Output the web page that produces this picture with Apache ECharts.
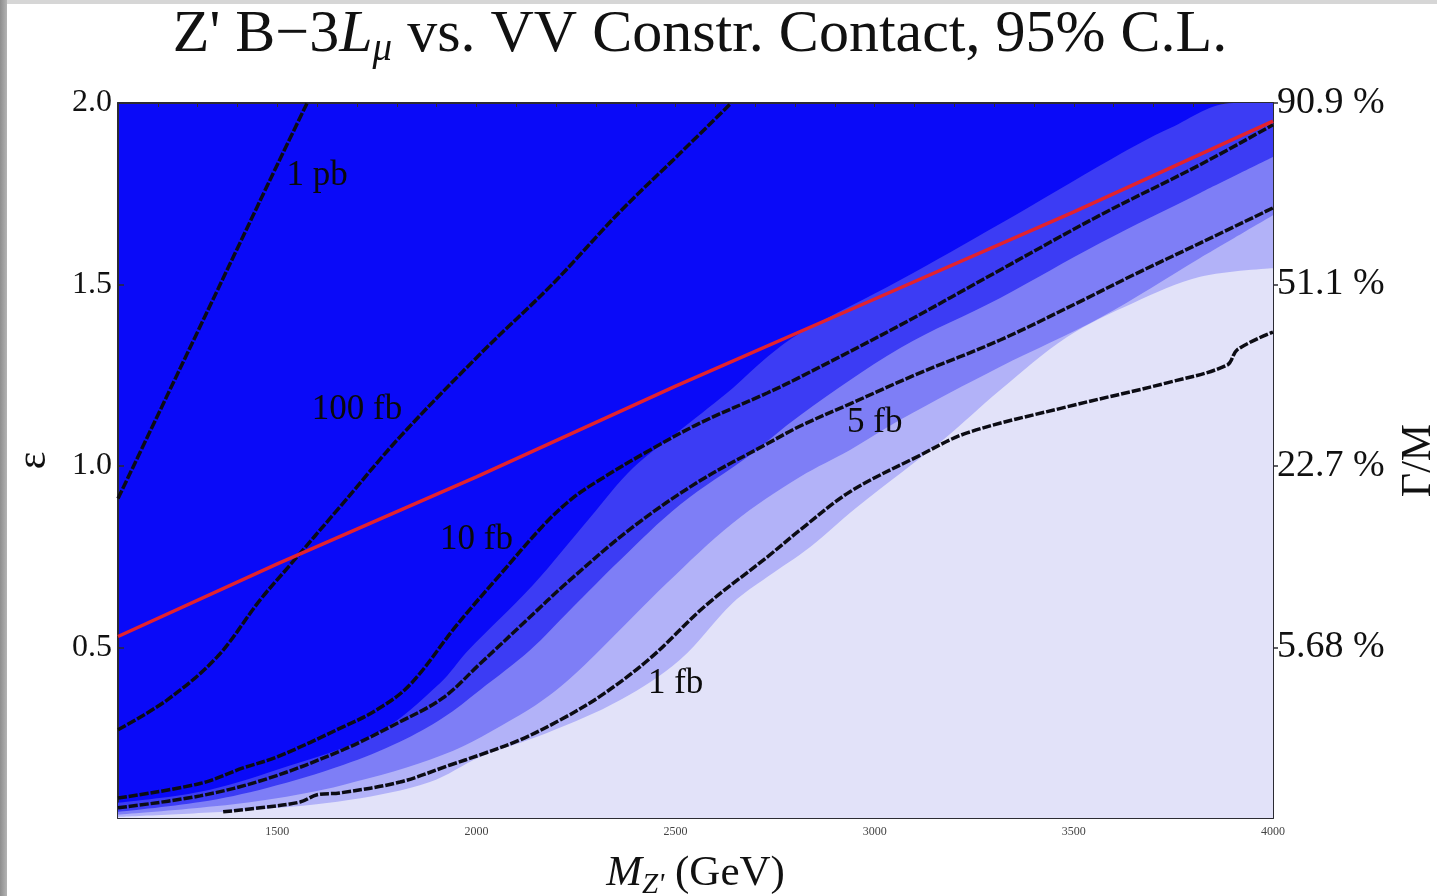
<!DOCTYPE html>
<html>
<head>
<meta charset="utf-8">
<script src="https://cdn.jsdelivr.net/npm/echarts@6.0.0/dist/echarts.min.js"></script>
<style>
  html, body { margin: 0; padding: 0; background: #fff; }
  #chart { width: 1437px; height: 896px; }
  .strip-top { position: absolute; left: 0; top: 0; width: 1437px; height: 4px; background: #d6d6d6; }
  .strip-left { position: absolute; left: 0; top: 0; width: 7px; height: 896px; background: linear-gradient(to right, #8e8e8e, #b4b4b4); }
</style>
</head>
<body>
<div id="chart"></div>
<div class="strip-top"></div>
<div class="strip-left"></div>
<script>
// [M_Z' (GeV), epsilon]
const redLine = [[1100, 0.53], [1500, 0.73], [2000, 0.97], [2500, 1.22], [3000, 1.46], [3500, 1.70], [4000, 1.95]];

const contour1pb = [[1100, 0.91], [1200, 1.14], [1300, 1.37], [1400, 1.60], [1500, 1.83], [1575, 2.0]];
const contour100fb = [[1100, 0.273], [1223, 0.355], [1349, 0.474], [1457, 0.631], [1532, 0.727], [1657, 0.887],
  [1808, 1.08], [2020, 1.32], [2190, 1.50], [2360, 1.70], [2510, 1.86], [2640, 2.0]];
const contour10fb = [[1100, 0.085], [1306, 0.125], [1414, 0.168], [1499, 0.198], [1665, 0.281], [1750, 0.328],
  [1833, 0.397], [1951, 0.562], [2059, 0.70], [2167, 0.835], [2240, 0.91], [2310, 0.962], [2436, 1.044],
  [2561, 1.118], [2730, 1.201], [2813, 1.245], [3064, 1.388], [3315, 1.540], [3566, 1.691], [3817, 1.83], [4000, 1.94]];
const contour5fb = [[1100, 0.058], [1306, 0.091], [1474, 0.138], [1665, 0.218], [1808, 0.295], [1916, 0.361],
  [2009, 0.455], [2127, 0.576], [2227, 0.678], [2393, 0.832], [2561, 0.959], [2730, 1.061], [2813, 1.110],
  [2938, 1.171], [3106, 1.253], [3315, 1.347], [3523, 1.457], [3649, 1.526], [3817, 1.614], [4000, 1.711]];
const contour1fb = [[1364, 0.047], [1457, 0.058], [1557, 0.074], [1600, 0.094], [1657, 0.099], [1808, 0.129],
  [1934, 0.176], [2009, 0.204], [2109, 0.245], [2210, 0.300], [2310, 0.365], [2436, 0.470], [2574, 0.614],
  [2730, 0.749], [2813, 0.824], [2938, 0.929], [3106, 1.025], [3232, 1.091], [3483, 1.163],
  [3734, 1.229], [3885, 1.278], [3910, 1.320], [4000, 1.369]];

// edges of the shaded regions, darkest to lightest
const edgeDark = [[1100, 0.072], [1306, 0.102], [1499, 0.163], [1750, 0.264], [1909, 0.402], [1976, 0.488],
  [2142, 0.672], [2285, 0.857], [2393, 0.994], [2519, 1.105], [2644, 1.215], [2730, 1.30], [2813, 1.366],
  [3064, 1.512], [3315, 1.667], [3598, 1.848], [3742, 1.931], [3900, 2.0], [4000, 2.0]];
const edgeMid = [[1100, 0.047], [1306, 0.074], [1474, 0.113], [1665, 0.176], [1808, 0.240], [1916, 0.306],
  [2009, 0.383], [2135, 0.493], [2235, 0.603], [2361, 0.741], [2511, 0.893], [2687, 1.030], [2813, 1.140],
  [3064, 1.325], [3315, 1.463], [3566, 1.614], [3817, 1.752], [4000, 1.851]];
const edgeLight = [[1100, 0.039], [1306, 0.058], [1474, 0.080], [1665, 0.121], [1916, 0.204], [2109, 0.314],
  [2210, 0.391], [2310, 0.493], [2479, 0.678], [2644, 0.843], [2813, 0.970], [2938, 1.044], [3064, 1.127],
  [3315, 1.273], [3566, 1.408], [3817, 1.573], [4000, 1.691]];
const edgePale = [[1100, 0.033], [1431, 0.052], [1683, 0.080], [1883, 0.129], [2009, 0.198], [2177, 0.264],
  [2361, 0.355], [2511, 0.466], [2644, 0.623], [2730, 0.694], [2838, 0.777], [2956, 0.887], [3172, 1.072],
  [3315, 1.209], [3483, 1.355], [3649, 1.449], [3817, 1.521], [4000, 1.545]];

const contourLabels = [['1 pb', 1600, 1.80], ['100 fb', 1700, 1.154], ['10 fb', 2000, 0.796],
  ['5 fb', 3000, 1.118], ['1 fb', 2500, 0.399]];

const xTicks = [1500, 2000, 2500, 3000, 3500, 4000];
const yTicks = [0.5, 1.0, 1.5, 2.0];
const widthLabels = ['5.68 %', '22.7 %', '51.1 %', '90.9 %'];

const SERIF = '"Liberation Serif", "DejaVu Serif", serif';
const BAND = ['#0a0af8', '#3c3cf4', '#7e7ef6', '#b2b2f8', '#e2e2f9'];

function band(data, color) {
  return {
    type: 'line', data: data, smooth: 0.35, symbol: 'none', silent: true, z: 1,
    lineStyle: { width: 0 },
    areaStyle: { color: color, opacity: 1, origin: 'start' }
  };
}
function contour(data) {
  return {
    type: 'line', data: data, smooth: 0.35, symbol: 'none', silent: true, z: 3,
    lineStyle: { color: '#0c0c14', width: 3.5, type: [9, 2] }
  };
}

const frame = { show: true, lineStyle: { color: '#2b2b33', width: 2 } };

const option = {
  animation: false,
  backgroundColor: '#fff',
  title: {
    text: "{n|Z' B\u22123}{i|L}{s|\u03bc}{n| vs. VV Constr. Contact, 95% C.L.}",
    left: 695, top: -3, textAlign: 'center',
    textStyle: {
      fontWeight: 'normal',
      rich: {
        n: { fontFamily: SERIF, fontSize: 60, fontWeight: 'normal', color: '#111' },
        i: { fontFamily: SERIF, fontSize: 60, fontWeight: 'normal', fontStyle: 'italic', color: '#111' },
        s: { fontFamily: SERIF, fontSize: 39, fontWeight: 'normal', fontStyle: 'italic', color: '#111', verticalAlign: 'bottom', padding: [28, 0, 0, 0] }
      }
    }
  },
  grid: { left: 118, right: 164, top: 103, bottom: 78, show: true, backgroundColor: BAND[0], borderWidth: 0, outerBoundsMode: 'none' },
  xAxis: [
    {
      type: 'value', min: 1100, max: 4000, position: 'bottom',
      axisLine: frame, splitLine: { show: false },
      axisTick: { inside: true, length: 7, customValues: xTicks, lineStyle: { color: '#2b2b33', width: 1.5 } },
      axisLabel: { customValues: xTicks, formatter: v => String(v), fontFamily: SERIF, fontSize: 12, color: '#444', margin: 8 },
      name: "{i|M}{s|Z'} (GeV)", nameLocation: 'middle', nameGap: 29, nameMoveOverlap: false,
      nameTextStyle: {
        rich: {
          i: { fontFamily: SERIF, fontSize: 43, fontStyle: 'italic', color: '#111' },
          s: { fontFamily: SERIF, fontSize: 29, fontStyle: 'italic', color: '#111', verticalAlign: 'bottom', padding: [24, 0, 0, 0] }
        },
        fontFamily: SERIF, fontSize: 43, color: '#111'
      }
    },
    {
      type: 'value', min: 1100, max: 4000, interval: 100, position: 'bottom',
      axisLine: { show: false }, splitLine: { show: false }, axisLabel: { show: false },
      axisTick: { inside: true, length: 4, lineStyle: { color: '#2b2b33', width: 1 } }
    },
    {
      type: 'value', min: 1100, max: 4000, interval: 100, position: 'top',
      axisLine: frame, splitLine: { show: false }, axisLabel: { show: false },
      axisTick: { inside: true, length: 4, lineStyle: { color: '#2b2b33', width: 1 } }
    }
  ],
  yAxis: [
    {
      type: 'value', min: 0.03, max: 2.0, position: 'left',
      axisLine: frame, splitLine: { show: false },
      axisTick: { inside: true, length: 6, customValues: yTicks, lineStyle: { color: '#2b2b33', width: 1.5 } },
      axisLabel: {
        customValues: yTicks, formatter: v => v.toFixed(1),
        fontFamily: SERIF, fontSize: 32, color: '#111', margin: 6
      },
      name: '\u03b5', nameLocation: 'middle', nameGap: 63, nameRotate: 90, nameMoveOverlap: false,
      nameTextStyle: { fontFamily: SERIF, fontSize: 42, color: '#111' }
    },
    {
      type: 'value', min: 0.03, max: 2.0, position: 'right',
      axisLine: frame, splitLine: { show: false },
      axisTick: { inside: false, length: 5, customValues: yTicks, lineStyle: { color: '#2b2b33', width: 1.5 } },
      axisLabel: {
        customValues: yTicks, formatter: v => widthLabels[yTicks.indexOf(v)] || '',
        fontFamily: SERIF, fontSize: 38, color: '#111', margin: 4
      },
      name: '\u0393/M', nameLocation: 'middle', nameGap: 125, nameRotate: 90, nameMoveOverlap: false,
      nameTextStyle: { fontFamily: SERIF, fontSize: 42, color: '#111' }
    }
  ],
  series: [
    band(edgeDark, BAND[1]),
    band(edgeMid, BAND[2]),
    band(edgeLight, BAND[3]),
    band(edgePale, BAND[4]),
    contour(contour1pb),
    contour(contour100fb),
    contour(contour10fb),
    contour(contour5fb),
    contour(contour1fb),
    {
      type: 'line', data: redLine, symbol: 'none', silent: true, z: 4,
      lineStyle: { color: '#e3222e', width: 3.5 }
    },
    {
      type: 'scatter', silent: true, z: 5, symbolSize: 1, itemStyle: { color: 'rgba(0,0,0,0)' },
      data: contourLabels.map(d => ({ name: d[0], value: [d[1], d[2]] })),
      label: {
        show: true, position: 'inside', formatter: p => p.name,
        fontFamily: SERIF, fontSize: 35, color: '#0a0a0a', textBorderWidth: 0, opacity: 1
      }
    }
  ]
};

const chart = echarts.init(document.getElementById('chart'));
chart.setOption(option);
</script>
</body>
</html>
